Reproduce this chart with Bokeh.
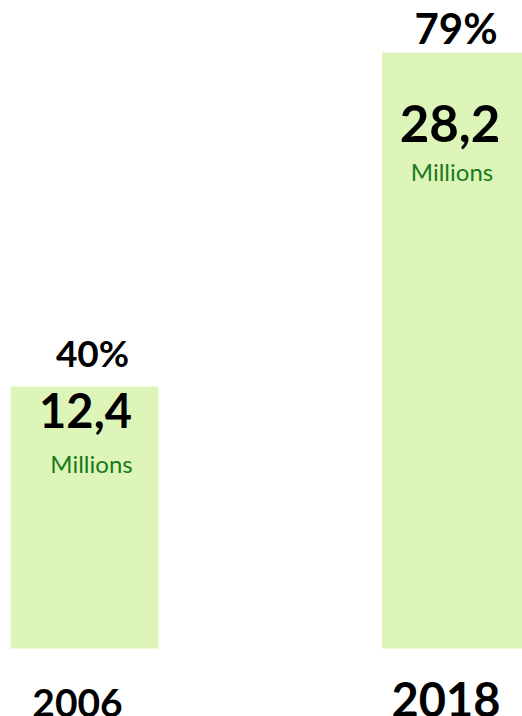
from bokeh.plotting import figure
from bokeh.models import ColumnDataSource, Range1d
from bokeh.core.properties import value
from bokeh.embed import file_html
from bokeh.resources import INLINE

# ---- data ----
years = ["2006", "2018"]
millions = [12.4, 28.2]
value_labels = ["12,4", "28,2"]
pct_labels = ["40%", "79%"]
unit_labels = ["Millions", "Millions"]

# ---- layout / style (not data) ----
BAR_COLOR = "#ddf5b8"
UNIT_COLOR = "#1b7a1b"
FONT = "Lato"

xs = list(range(len(years)))
src = ColumnDataSource(dict(
    x=xs, top=millions, zero=[0] * len(xs), years=years,
    vals=value_labels, pcts=pct_labels, units=unit_labels,
    pct_dx=[8, 0], pct_dy=[-34, -24], pct_fs=["37px", "42px"],
    val_dx=[1, -6], val_dy=[24, 71], val_fs=["47px", "51px"],
    unit_dx=[7, -4], unit_dy=[77, 119],
    yr_dx=[-7, -10], yr_dy=[54, 51], yr_fs=["39px", "47px"],
))

p = figure(width=522, height=716, output_backend="svg", toolbar_location=None,
           x_axis_type=None, y_axis_type=None, min_border=0,
           x_range=Range1d(-0.2261, 1.1790), y_range=Range1d(-3.217, 30.66))
p.outline_line_color = None
p.grid.visible = False
p.background_fill_color = "white"
p.border_fill_color = "white"

p.vbar(x="x", top="top", bottom=0, width=0.398, source=src,
       fill_color=BAR_COLOR, line_color=None)

p.text(x="x", y="top", text="pcts", source=src, x_offset="pct_dx", y_offset="pct_dy",
       text_font=value(FONT), text_font_style="bold", text_font_size="pct_fs",
       text_align="center", text_baseline="alphabetic", text_color="black")
p.text(x="x", y="top", text="vals", source=src, x_offset="val_dx", y_offset="val_dy",
       text_font=value(FONT), text_font_style="bold", text_font_size="val_fs",
       text_align="center", text_baseline="alphabetic", text_color="black")
p.text(x="x", y="top", text="units", source=src, x_offset="unit_dx", y_offset="unit_dy",
       text_font=value(FONT), text_font_size="24px",
       text_align="center", text_baseline="alphabetic", text_color=UNIT_COLOR)
p.text(x="x", y="zero", text="years", source=src, x_offset="yr_dx", y_offset="yr_dy",
       text_font=value(FONT), text_font_style="bold", text_font_size="yr_fs",
       text_align="center", text_baseline="alphabetic", text_color="black")

open("out.html", "w").write(file_html(p, INLINE))
